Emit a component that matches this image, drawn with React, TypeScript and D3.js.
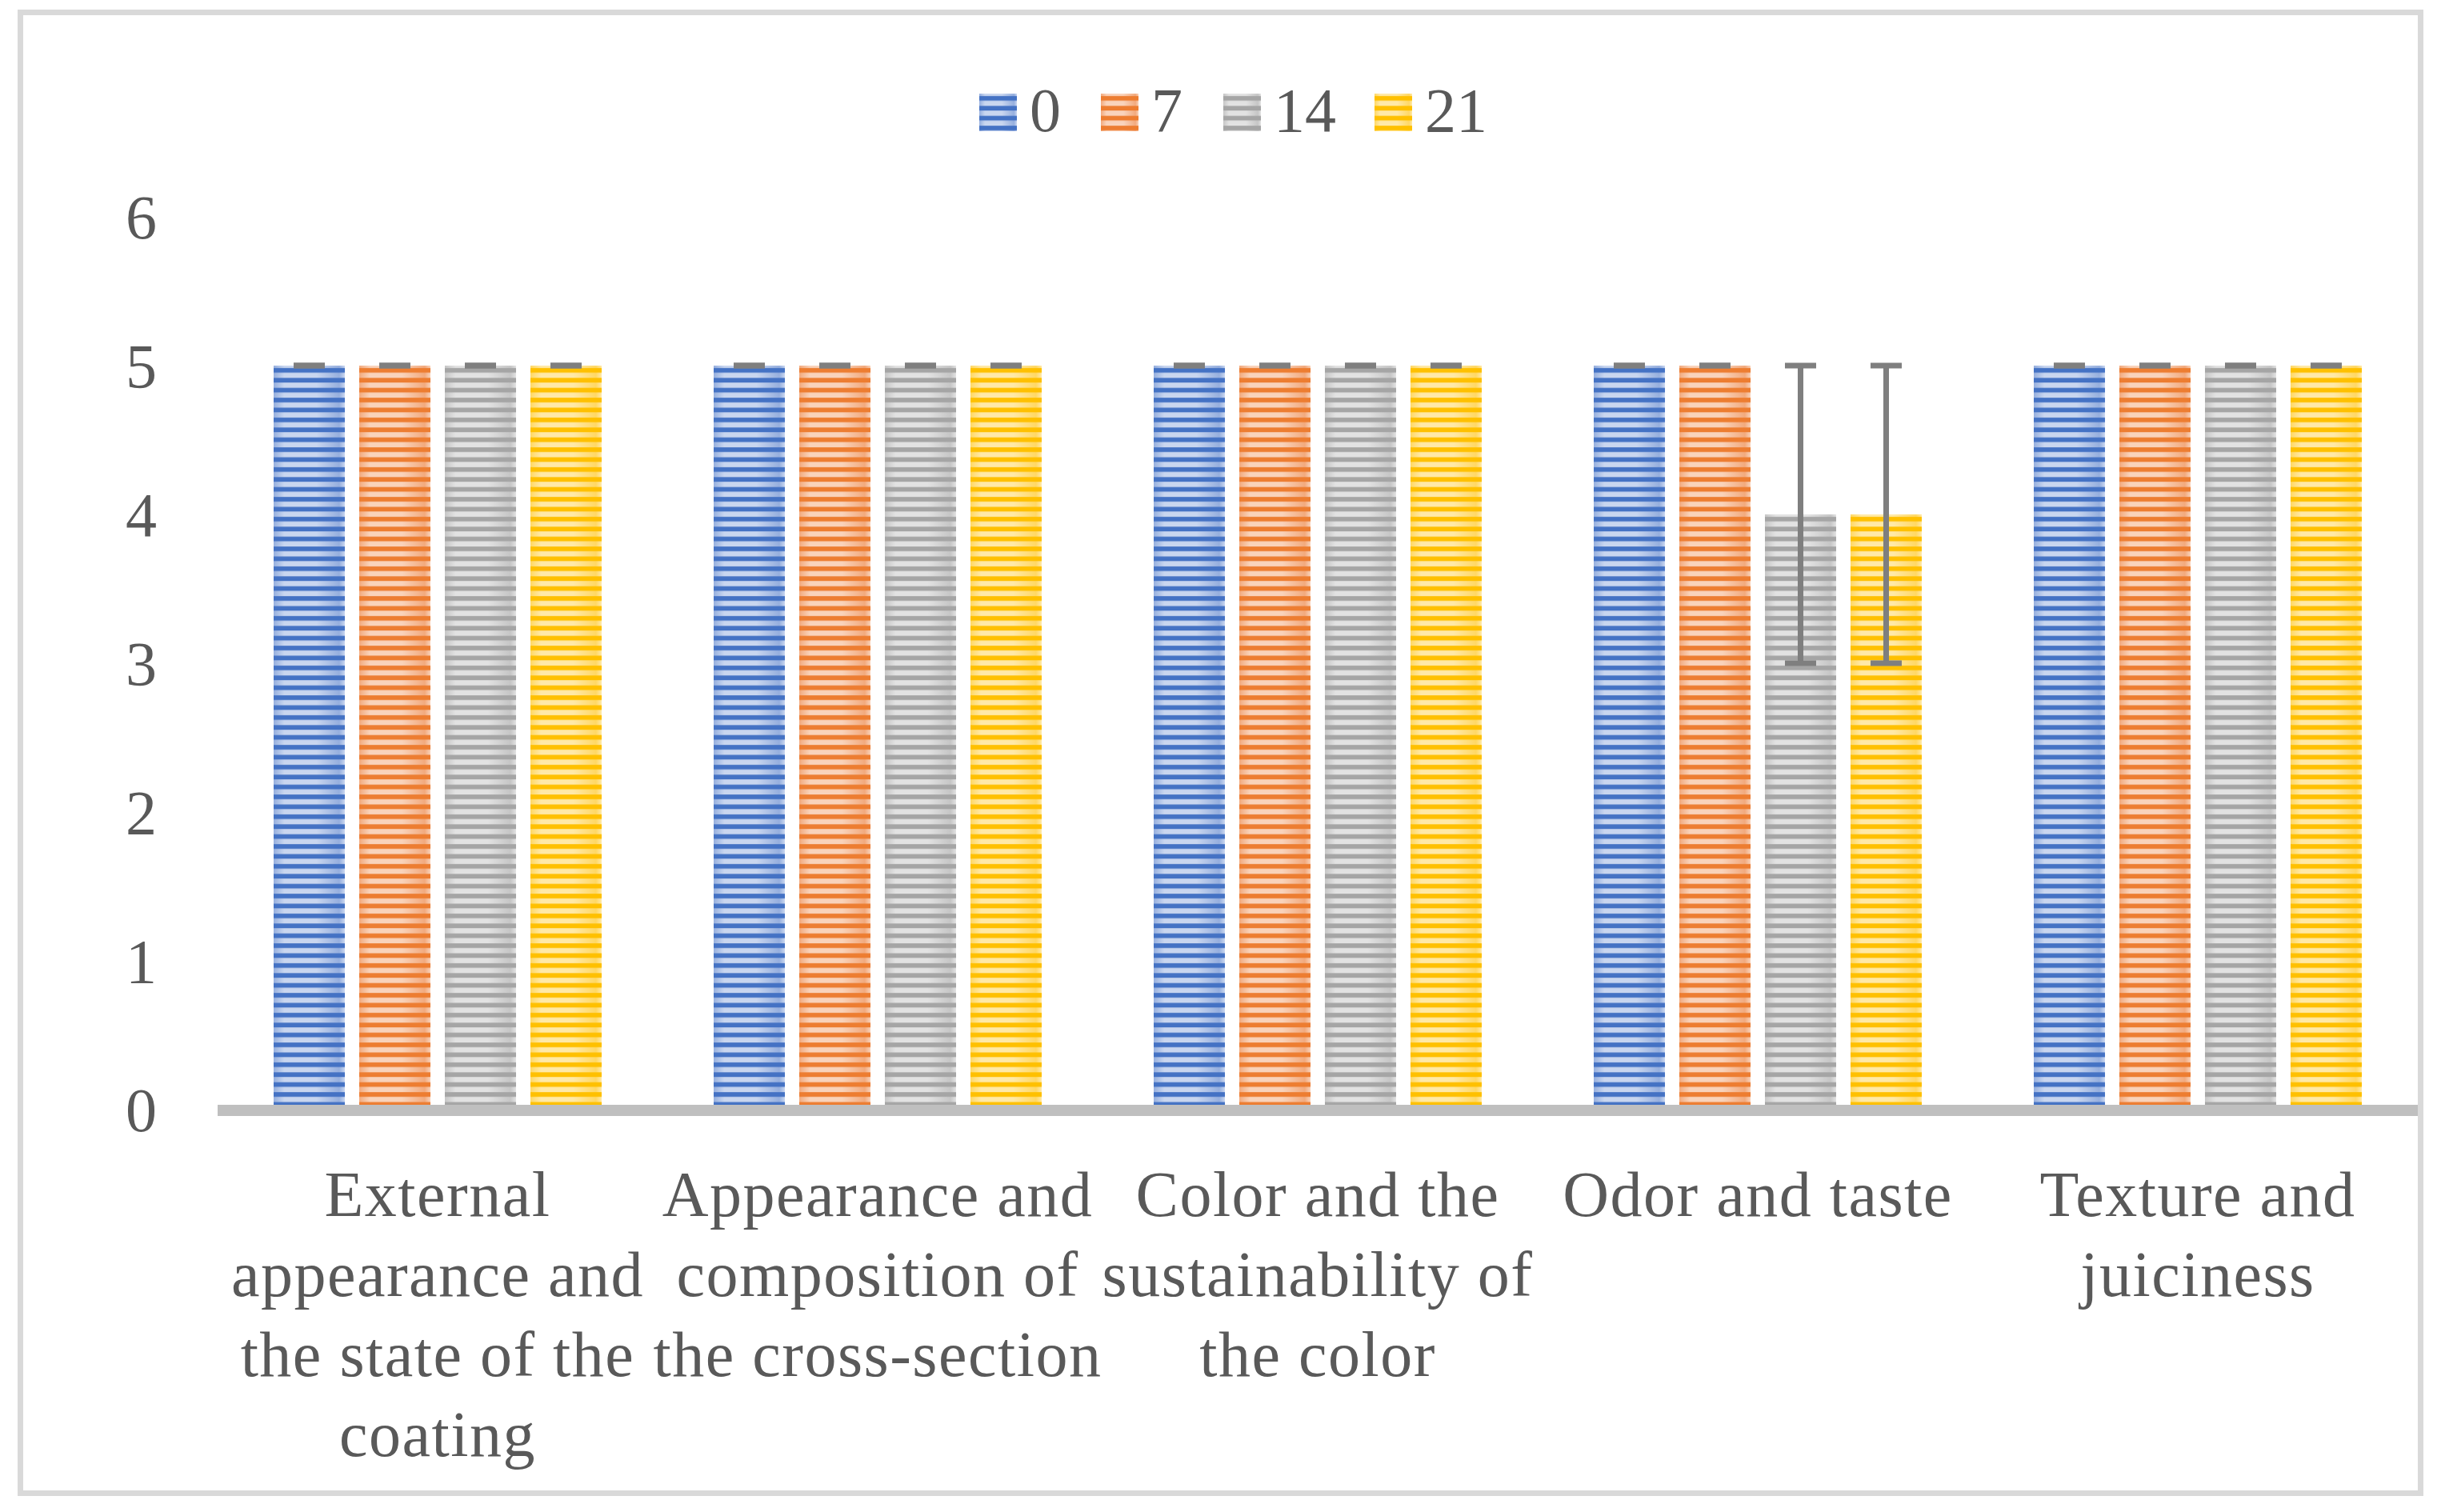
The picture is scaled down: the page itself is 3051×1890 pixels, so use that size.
import React from "react";
import * as d3 from "d3";

const categories = [
  ["External", "appearance and", "the state of the", "coating"],
  ["Appearance and", "composition of", "the cross-section"],
  ["Color and the", "sustainability of", "the color"],
  ["Odor and taste"],
  ["Texture and", "juiciness"],
];
const seriesNames = ["0", "7", "14", "21"];
const values0 = [5, 5, 5, 5, 5];
const values7 = [5, 5, 5, 5, 5];
const values14 = [5, 5, 5, 4, 5];
const values21 = [5, 5, 5, 4, 5];
const err0 = [0, 0, 0, 0, 0];
const err7 = [0, 0, 0, 0, 0];
const err14 = [0, 0, 0, 1, 0];
const err21 = [0, 0, 0, 1, 0];
const yTicks = [0, 1, 2, 3, 4, 5, 6];

const seriesValues = [values0, values7, values14, values21];
const seriesErrors = [err0, err7, err14, err21];
const darkColors = ["#4472c4", "#ed7d31", "#a5a5a5", "#ffc000"];
const lightColors = ["#c9d6ef", "#f9d3bb", "#e2e2e2", "#ffe9a8"];
const midColors = ["#96afde", "#f2aa7e", "#c6c6c6", "#ffd865"];

const W = 3051;
const H = 1890;
const FONT = "'Liberation Serif', 'Times New Roman', serif";
const TEXT = "#595959";

export default function App() {
  const plotLeft = 272;
  const plotRight = 3022;
  const y = d3.scaleLinear().domain([0, 6]).range([1387, 271]);
  const catIdx = categories.map((_, i) => String(i));
  const x0 = d3.scaleBand().domain(catIdx).range([plotLeft, plotRight]).padding(0);
  const x1 = d3
    .scaleBand()
    .domain(seriesNames)
    .range([70, 480])
    .paddingInner(0.168)
    .paddingOuter(0);
  const bw = x1.bandwidth();
  const period = 12.4;
  const patternY = y(5);

  const legendX = [1224, 1376, 1529, 1718];

  return (
    <svg
      width={W}
      height={H}
      style={{ position: "absolute", left: 0, top: 0, background: "#fff" }}
    >
      <defs>
        {seriesNames.map((s, i) => (
          <React.Fragment key={s}>
            <linearGradient id={`grad${i}`} x1="0" x2="1" y1="0" y2="0">
              <stop offset="0%" stopColor={midColors[i]} />
              <stop offset="15%" stopColor={lightColors[i]} />
              <stop offset="60%" stopColor={lightColors[i]} />
              <stop offset="92%" stopColor={midColors[i]} />
              <stop offset="100%" stopColor={lightColors[i]} />
            </linearGradient>
            <pattern
              id={`stripe${i}`}
              patternUnits="userSpaceOnUse"
              x={0}
              y={patternY}
              width={20}
              height={period}
            >
              <rect x={0} y={3} width={20} height={5.8} fill={darkColors[i]} />
            </pattern>
            <pattern
              id={`lstripe${i}`}
              patternUnits="userSpaceOnUse"
              x={0}
              y={117}
              width={20}
              height={period}
            >
              <rect x={0} y={3} width={20} height={5.8} fill={darkColors[i]} />
            </pattern>
          </React.Fragment>
        ))}
      </defs>
      <rect x={0} y={0} width={W} height={H} fill="#fff" />
      <rect
        x={25.5}
        y={15.5}
        width={3000}
        height={1851}
        fill="#fff"
        stroke="#d9d9d9"
        strokeWidth={7}
      />

      {/* legend */}
      {seriesNames.map((s, i) => (
        <g key={s}>
          <rect x={legendX[i]} y={117} width={47} height={47} fill={`url(#grad${i})`} />
          <rect x={legendX[i]} y={117} width={47} height={47} fill={`url(#lstripe${i})`} />
          <text
            x={legendX[i] + 63}
            y={164}
            fontFamily={FONT}
            fontSize={78}
            fill={TEXT}
          >
            {s}
          </text>
        </g>
      ))}

      {/* y tick labels */}
      {yTicks.map((t) => (
        <text
          key={t}
          x={196}
          y={y(t)}
          dy="0.35em"
          textAnchor="end"
          fontFamily={FONT}
          fontSize={78}
          fill={TEXT}
        >
          {t}
        </text>
      ))}

      {/* bars */}
      {categories.map((_, ci) => (
        <g key={ci} transform={`translate(${x0(String(ci))},0)`}>
          {seriesNames.map((s, si) => {
            const v = seriesValues[si][ci];
            const bx = x1(s) as number;
            return (
              <g key={s}>
                <rect
                  x={bx}
                  y={y(v)}
                  width={bw}
                  height={y(0) - y(v)}
                  fill={`url(#grad${si})`}
                />
                <rect
                  x={bx}
                  y={y(v)}
                  width={bw}
                  height={y(0) - y(v)}
                  fill={`url(#stripe${si})`}
                />
              </g>
            );
          })}
        </g>
      ))}

      {/* x axis line */}
      <line
        x1={plotLeft}
        x2={plotRight}
        y1={y(0) + 1}
        y2={y(0) + 1}
        stroke="#bfbfbf"
        strokeWidth={14}
      />

      {/* error bars */}
      {categories.map((_, ci) => (
        <g key={ci} transform={`translate(${x0(String(ci))},0)`}>
          {seriesNames.map((s, si) => {
            const v = seriesValues[si][ci];
            const e = seriesErrors[si][ci];
            const cx = (x1(s) as number) + bw / 2;
            const capW = 39;
            return (
              <g key={s} stroke="#7f7f7f" strokeWidth={7}>
                {e > 0 && (
                  <line x1={cx} x2={cx} y1={y(v + e)} y2={y(v - e)} />
                )}
                <line x1={cx - capW / 2} x2={cx + capW / 2} y1={y(v + e)} y2={y(v + e)} />
                <line x1={cx - capW / 2} x2={cx + capW / 2} y1={y(v - e)} y2={y(v - e)} />
              </g>
            );
          })}
        </g>
      ))}

      {/* category labels */}
      {categories.map((lines, ci) => {
        const cx = (x0(String(ci)) as number) + x0.bandwidth() / 2;
        return (
          <text
            key={ci}
            x={cx}
            textAnchor="middle"
            fontFamily={FONT}
            fontSize={80}
            letterSpacing={1.5}
            fill={TEXT}
          >
            {lines.map((l, li) => (
              <tspan key={li} x={cx} y={1520 + li * 100}>
                {l}
              </tspan>
            ))}
          </text>
        );
      })}
    </svg>
  );
}
